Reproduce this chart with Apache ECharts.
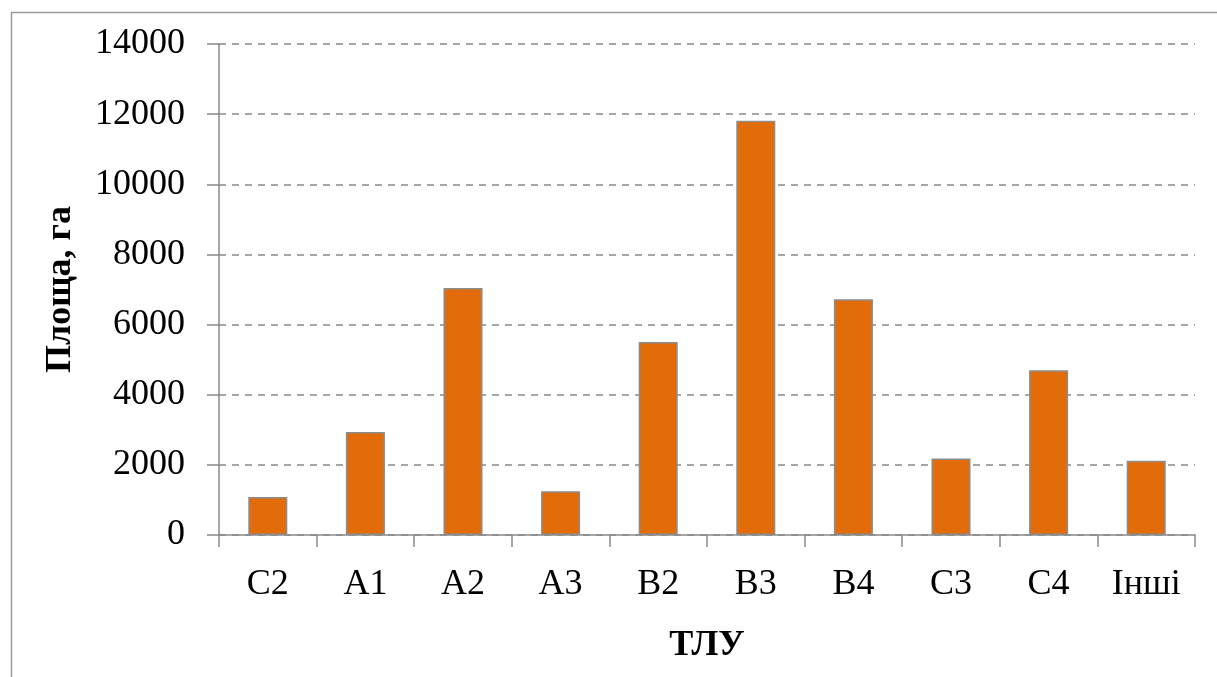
<!DOCTYPE html>
<html>
<head>
<meta charset="utf-8">
<style>
  html, body { margin: 0; padding: 0; background: #ffffff; }
  #chart { width: 1217px; height: 677px; }
</style>
<script src="https://cdn.jsdelivr.net/npm/echarts@6/dist/echarts.min.js"></script>
</head>
<body>
<div id="chart"></div>
<script>
// Forest site types (ТЛУ) and their area, ha
const categories = ['C2', 'A1', 'A2', 'A3', 'B2', 'B3', 'B4', 'C3', 'C4', 'Інші'];
const areaValues = [1080, 2940, 7040, 1250, 5500, 11810, 6720, 2180, 4700, 2120];
const yTicks = { min: 0, max: 14000, interval: 2000 };

const FONT = '"Liberation Serif", "Times New Roman", serif';
const GRAY = '#898989';

const chart = echarts.init(document.getElementById('chart'), null, { renderer: 'canvas' });

chart.setOption({
  backgroundColor: '#ffffff',
  animation: false,
  graphic: [{
    type: 'rect',
    left: 9, top: 10,
    shape: { width: 1230, height: 700 },
    style: { fill: 'none', stroke: '#9a9a9a', lineWidth: 1.5 },
    silent: true
  }],
  grid: { left: 219, right: 22, top: 44, bottom: 142, containLabel: false },
  xAxis: {
    type: 'category',
    data: categories,
    name: 'ТЛУ',
    nameLocation: 'middle',
    nameGap: 93,
    nameTextStyle: { fontFamily: FONT, fontSize: 36, fontWeight: 'bold', color: '#000' },
    axisLine: { show: true, lineStyle: { color: GRAY, width: 1.5 } },
    axisTick: { show: true, alignWithLabel: false, length: 12, lineStyle: { color: GRAY, width: 1.5 } },
    axisLabel: { fontFamily: FONT, fontSize: 36, color: '#000', margin: 32 },
    splitLine: { show: false }
  },
  yAxis: {
    type: 'value',
    min: yTicks.min,
    max: yTicks.max,
    interval: yTicks.interval,
    name: 'Площа, га',
    nameLocation: 'middle',
    nameGap: 140,
    nameTextStyle: { fontFamily: FONT, fontSize: 36, fontWeight: 'bold', color: '#000' },
    axisLine: { show: true, lineStyle: { color: GRAY, width: 1.5 } },
    axisTick: { show: true, length: 12, lineStyle: { color: GRAY, width: 1.5 } },
    axisLabel: {
      fontFamily: FONT, fontSize: 36, color: '#000', margin: 34,
      formatter: (v) => String(v)
    },
    splitLine: { show: true, lineStyle: { color: GRAY, width: 1.5, type: [7, 6] } }
  },
  series: [{
    type: 'bar',
    data: areaValues,
    barCategoryGap: '60%',
    itemStyle: { color: '#E36C0A', borderColor: '#8c8c8c', borderWidth: 1.5 }
  }]
});
</script>
</body>
</html>
